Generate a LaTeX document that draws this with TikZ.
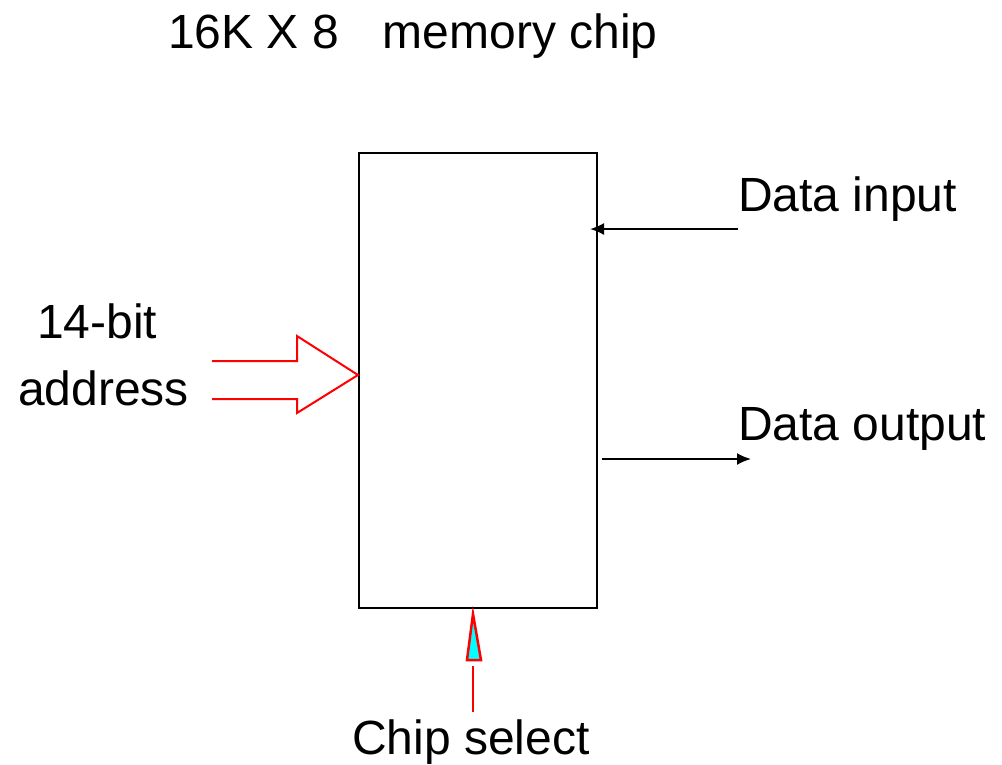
\documentclass[tikz,border=0pt]{standalone}
\usepackage{fontspec}
\setmainfont{Liberation Sans}
\usetikzlibrary{arrows.meta}
\definecolor{csfill}{RGB}{0,255,255}
\begin{document}
\begin{tikzpicture}[x=1pt,y=-1pt,
  lbl/.style={anchor=base west,inner sep=0pt,font=\fontsize{48}{56}\selectfont},
  blk/.style={draw=black,line width=2pt},
  redline/.style={draw=red,line width=2pt},
  blkarrow/.style={draw=black,line width=2pt,-{Latex[length=14pt,width=12pt]}}]
\useasboundingbox (0,0) rectangle (1002,764);
% chip
\node[blk,minimum width=238pt,minimum height=455pt,inner sep=0pt,anchor=north west] (chip) at (358,152) {};
% title
\node[lbl] (title) at (168,48) {16K X 8\hspace{44pt}memory chip};
% labels
\node[lbl] (din) at (738,211) {Data input};
\node[lbl] (dout) at (738,440) {Data output};
\node[lbl] (a1) at (37,338) {14-bit};
\node[lbl] (a2) at (18,405) {address};
\node[lbl] (cs) at (352,754) {Chip select};
% data arrows
\coordinate (dinS) at (738,229);
\coordinate (doutE) at (751,459);
\draw[blkarrow] (dinS) -- ([xshift=-8pt]chip.east |- dinS);
\draw[blkarrow] ([xshift=4pt]chip.east |- doutE) -- (doutE);
% address fat arrow
\coordinate (tip) at (chip.west |- 0,375);
\draw[redline,line join=miter] (212,361) -- (297,361) -- (297,336) -- (tip) -- (297,413) -- (297,399) -- (212,399);
% chip select
\coordinate (cstip) at (473,614);
\draw[redline,fill=csfill,line width=2.5pt] (cstip) -- (481,660) -- (467,660) -- cycle;
\coordinate (csbot) at (473,712);
\draw[redline] (csbot) -- (473,666);
\end{tikzpicture}
\end{document}
